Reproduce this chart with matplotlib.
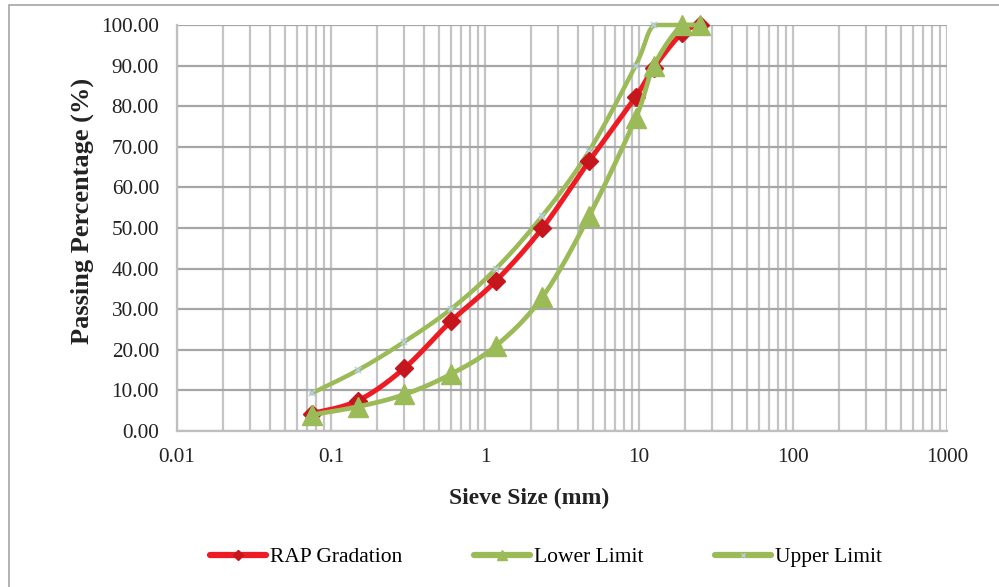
import numpy as np
import matplotlib
matplotlib.use("Agg")
import matplotlib.pyplot as plt
from matplotlib.ticker import FixedLocator, LogLocator, NullFormatter
from matplotlib.patches import Rectangle

plt.rcParams['font.family'] = ['Liberation Serif', 'DejaVu Serif']

sieve_mm = [0.075, 0.15, 0.3, 0.6, 1.18, 2.36, 4.75, 9.5, 12.5, 19, 25]
rap_gradation = [4.3, 7.5, 15.5, 27, 37, 50, 66.5, 82.3, 89.5, 98, 100]
lower_limit = [4, 6, 9, 14, 21, 33, 53, 77, 90, 100, 100]
upper_limit = [9.3, 15, 22, 30, 40, 53, 69, 90, 100, 100, 100]
x_tick_values = [0.01, 0.1, 1, 10, 100, 1000]
x_tick_labels = ["0.01", "0.1", "1", "10", "100", "1000"]
y_tick_values = [0, 10, 20, 30, 40, 50, 60, 70, 80, 90, 100]
series_names = ["RAP Gradation", "Lower Limit", "Upper Limit"]


def smooth(xs, ys, n=30):
    """Catmull-Rom style Bezier spline through points, in log10(x) / y space."""
    lx = np.log10(np.asarray(xs, float))
    y = np.asarray(ys, float)
    P = np.column_stack([lx, y])
    P = np.vstack([P[0], P, P[-1]])
    out = []
    for i in range(1, len(P) - 2):
        p0, p1, p2, p3 = P[i - 1], P[i], P[i + 1], P[i + 2]
        c1 = p1 + (p2 - p0) / 6.0
        c2 = p2 - (p3 - p1) / 6.0
        t = np.linspace(0, 1, n)[:, None]
        seg = ((1 - t) ** 3) * p1 + 3 * ((1 - t) ** 2) * t * c1 + 3 * (1 - t) * t ** 2 * c2 + t ** 3 * p2
        out.append(seg if i == 1 else seg[1:])
    out = np.vstack(out)
    return 10 ** out[:, 0], np.minimum(out[:, 1], y.max())


W, H = 999, 587
fig = plt.figure(figsize=(W / 100, H / 100), dpi=100)
ax = fig.add_axes([177 / W, 1 - 431 / H, (947 - 177) / W, (431 - 25) / H])

red = '#ED1C24'
red_dark = '#C4161C'
green = '#9BBB59'
marker_blue = '#B9CDE5'

ax.set_xscale('log')
ax.set_xlim(0.01, 1000)
ax.set_ylim(0, 100)

ax.xaxis.set_major_locator(FixedLocator(x_tick_values))
ax.xaxis.set_minor_locator(LogLocator(base=10, subs=np.arange(2, 10)))
ax.xaxis.set_minor_formatter(NullFormatter())
ax.set_xticks(x_tick_values)
ax.set_xticklabels(x_tick_labels)
ax.set_yticks(y_tick_values)
ax.set_yticklabels(["%.2f" % v for v in y_tick_values])
ax.grid(True, which='major', axis='y', color='#A6A6A6', linewidth=1.6)
ax.grid(True, which='both', axis='x', color='#C4C4C4', linewidth=1.6)
ax.set_axisbelow(True)
ax.tick_params(axis='both', which='both', length=0, labelsize=15.3, colors='#222222')
ax.tick_params(axis='y', pad=13)
ax.tick_params(axis='x', pad=12)
for s in ['top', 'right']:
    ax.spines[s].set_visible(False)
for s in ['left', 'bottom']:
    ax.spines[s].set_color('#BFBFBF')
    ax.spines[s].set_linewidth(1.6)

# series
sx, sy = smooth(sieve_mm, upper_limit)
ax.plot(sx, sy, color=green, lw=3.2, solid_capstyle='round', zorder=3, clip_on=False)
ax.plot(sieve_mm, upper_limit, ls='none', marker='x', ms=4, mew=1.2, color=marker_blue, zorder=4, clip_on=False)

sx, sy = smooth(sieve_mm, rap_gradation)
ax.plot(sx, sy, color=red, lw=3.6, solid_capstyle='round', zorder=5, clip_on=False)
ax.plot(sieve_mm, rap_gradation, ls='none', marker='D', ms=9, color=red_dark, mec=red_dark, zorder=6, clip_on=False)

sx, sy = smooth(sieve_mm, lower_limit)
ax.plot(sx, sy, color=green, lw=3.4, solid_capstyle='round', zorder=7, clip_on=False)
ax.plot(sieve_mm, lower_limit, ls='none', marker='^', ms=14, color=green, mec=green, zorder=8, clip_on=False)

# axis titles
fig.text(529 / W, 1 - 498 / H, 'Sieve Size (mm)', fontsize=17, fontweight='bold',
         ha='center', va='center', color='#222222')
fig.text(82 / W, 1 - 211 / H, 'Passing Percentage (%)', fontsize=19, fontweight='bold',
         ha='center', va='center', rotation=90, color='#222222')

# legend
h1, = ax.plot([], [], color=red, lw=4.5, marker='D', ms=5, mfc=red_dark, mec=red_dark, solid_capstyle='round')
h2, = ax.plot([], [], color=green, lw=4.5, marker='^', ms=7, mfc=green, mec=green, solid_capstyle='round')
h3, = ax.plot([], [], color=green, lw=4.5, marker='x', ms=3, mew=1, mec=marker_blue, solid_capstyle='round')
fig.legend([h1, h2, h3], series_names, loc='center', bbox_to_anchor=(546 / W, 1 - 557 / H),
           ncol=3, frameon=False, fontsize=15.5, handlelength=2.6, handletextpad=0.2,
           columnspacing=3.3, borderaxespad=0, borderpad=0)

# outer frame
fig.patches.append(Rectangle((9 / W, -0.05), 1.2, 1 - 5 / H + 0.05, transform=fig.transFigure,
                             fill=False, edgecolor='#A6A6A6', linewidth=1.2))

fig.savefig('out.png', dpi=100)
